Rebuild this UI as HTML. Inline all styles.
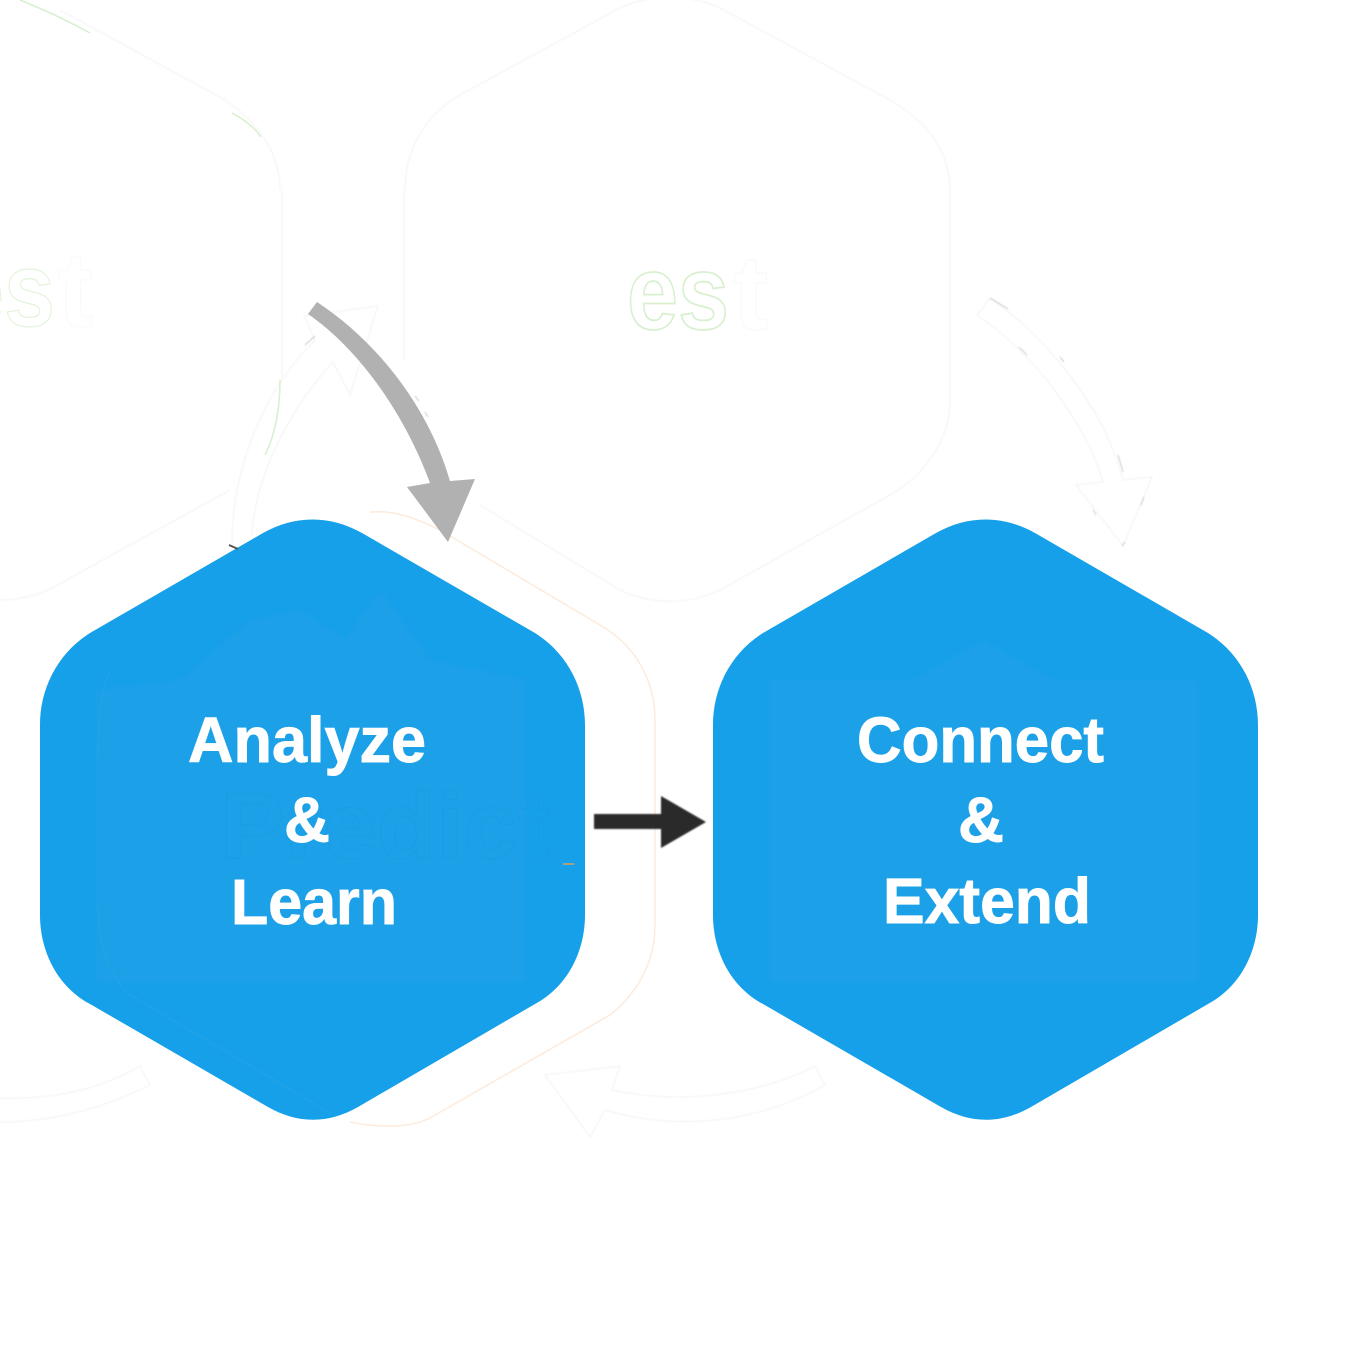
<!DOCTYPE html>
<html>
<head>
<meta charset="utf-8">
<style>
html,body{margin:0;padding:0;background:#fff;}
svg{display:block;}
text{font-family:"Liberation Sans",sans-serif;}
.t{font-weight:700;font-size:64px;fill:#fff;stroke:#fff;stroke-width:0.9px;}
</style>
</head>
<body>
<svg width="1350" height="1350" viewBox="0 0 1350 1350" xmlns="http://www.w3.org/2000/svg">
<defs>
<filter id="b1"><feGaussianBlur stdDeviation="0.8"/></filter>
<filter id="b2"><feGaussianBlur stdDeviation="3"/></filter>
<filter id="b3"><feGaussianBlur stdDeviation="0.5"/></filter>
<path id="hex" d="M40 725 C40 688 58 653 90 633 L263 533 C295 515 330 515 362 533 L535 633 C567 653 585 688 585 725 V915 C585 952 567 987 535 1004 L358 1107 C328 1124 298 1124 268 1107 L90 1004 C58 987 40 952 40 915 Z"/>
<clipPath id="hc"><use href="#hex"/></clipPath>
</defs>
<rect width="1350" height="1350" fill="#fff"/>

<!-- faint ghost outlines -->
<g fill="none" stroke="#f6f6f6" stroke-width="1.5" filter="url(#b3)">
<path d="M405 190 C405 150 425 115 460 95 L620 8 C650 -6 690 -6 720 8 L890 100 C925 120 950 150 950 190 V400 C950 440 925 475 890 495 L720 590 C690 605 650 605 620 590 L480 505"/>
<path d="M404 190 V360"/>
<path d="M280 190 C280 150 255 120 225 100 L60 10"/>
<path d="M282 190 V380"/>
<path d="M0 600 C30 600 50 590 70 578 L230 490"/>
<path d="M232 545 C232 480 255 400 315 340 L304 316 L378 306 L350 395 L333 362 C285 415 255 480 252 535"/>
<path d="M990 298 C1050 340 1105 410 1123 480 L1152 477 L1123 546 L1076 485 L1103 482 C1085 420 1030 350 977 315 Z"/>
<path d="M0 1122 C50 1122 100 1110 150 1085 L140 1066 C100 1090 50 1100 0 1098"/>
<path d="M825 1085 C760 1122 680 1132 605 1110 L590 1137 L545 1075 L620 1066 L612 1090 C680 1105 760 1095 815 1066 Z"/>
</g>
<g fill="none" stroke="#d4d4d4" stroke-width="1.2" filter="url(#b3)">
<path d="M990 298 L1008 309"/><path d="M1019 347 L1027 355"/><path d="M1060 357 L1064 362"/><path d="M1118 455 L1123 472"/><path d="M1144 497 L1141 505"/><path d="M1093 510 L1096 515"/><path d="M1125 542 L1122 546"/>
<path d="M415 396 L419 401"/><path d="M425 412 L428 417"/>
<path d="M305 345 L315 336"/>
</g>
<g fill="none" stroke="#fcebdc" stroke-width="1.5">
<path d="M370 512 C395 510 415 518 440 530 L600 625 C635 645 655 680 655 720 V925 C655 965 635 995 610 1015 L430 1118 C410 1128 380 1128 350 1122"/>
</g>
<g fill="none" stroke="#d6efcd" stroke-width="1.5">
<path d="M20 0 C45 10 70 22 90 33"/>
<path d="M232 113 C245 120 255 128 261 137"/>
<path d="M280 380 C280 410 275 435 265 455"/>
</g>
<text x="627" y="329" font-size="106" font-weight="700" fill="none" stroke="#d9f0d0" stroke-width="1.8" textLength="102" lengthAdjust="spacingAndGlyphs">es</text>
<text x="733" y="329" font-size="106" font-weight="700" fill="none" stroke="#f9f9f9" stroke-width="1.2">t</text>
<text x="-47" y="326" font-size="106" font-weight="700" fill="none" stroke="#e4f4dc" stroke-width="1.3" textLength="102" lengthAdjust="spacingAndGlyphs">es</text>
<text x="58" y="326" font-size="106" font-weight="700" fill="none" stroke="#fafafa" stroke-width="1.2">t</text>

<!-- hexagons -->
<use href="#hex" fill="#16a0e9"/>
<g clip-path="url(#hc)">
<path d="M96 690 L180 680 L250 620 L300 610 L345 640 L380 590 L430 660 L525 680 V982 H96 Z" fill="#1ea0e8" filter="url(#b2)"/>
<path d="M98 760 C98 720 100 695 110 670 M98 900 C98 935 103 965 127 993 L330 1113" fill="none" stroke="#3aa7dc" stroke-width="1" opacity="0.45"/>
</g>
<text x="220" y="858" font-size="94" font-weight="700" fill="none" stroke="#1c98de" stroke-width="0.9" opacity="0.55" textLength="330" lengthAdjust="spacingAndGlyphs">Predict</text>
<path d="M563 864 H574" stroke="#d9a15a" stroke-width="1.5"/>
<path d="M229 545 L238 549" stroke="#555" stroke-width="2"/>
<g transform="translate(673 0)">
<use href="#hex" fill="#16a0e9"/>
<g clip-path="url(#hc)"><path d="M96 680 L240 680 L310 640 L380 680 L525 680 V982 H96 Z" fill="#1ea0e8" filter="url(#b2)"/></g>
</g>

<!-- labels -->
<text class="t" x="188" y="762" textLength="238" lengthAdjust="spacingAndGlyphs">Analyze</text>
<text class="t" x="284" y="842" textLength="46" lengthAdjust="spacingAndGlyphs">&amp;</text>
<text class="t" x="231" y="924" textLength="166" lengthAdjust="spacingAndGlyphs">Learn</text>
<text class="t" x="857" y="762" textLength="247" lengthAdjust="spacingAndGlyphs">Connect</text>
<text class="t" x="958" y="842" textLength="46" lengthAdjust="spacingAndGlyphs">&amp;</text>
<text class="t" x="883" y="923" textLength="208" lengthAdjust="spacingAndGlyphs">Extend</text>

<!-- gray curved arrow -->
<path d="M317 302 C375 340 428 405 450 481 L475 479 L448 542 L407 487 L430 483 C405 415 360 350 308 314 Z" fill="#b1b1b1"/>

<!-- black arrow -->
<path d="M594 814 H661 V796 L706 822 L661 848 V829 H594 Z" fill="#2b2b2b" filter="url(#b1)"/>
</svg>
</body>
</html>
